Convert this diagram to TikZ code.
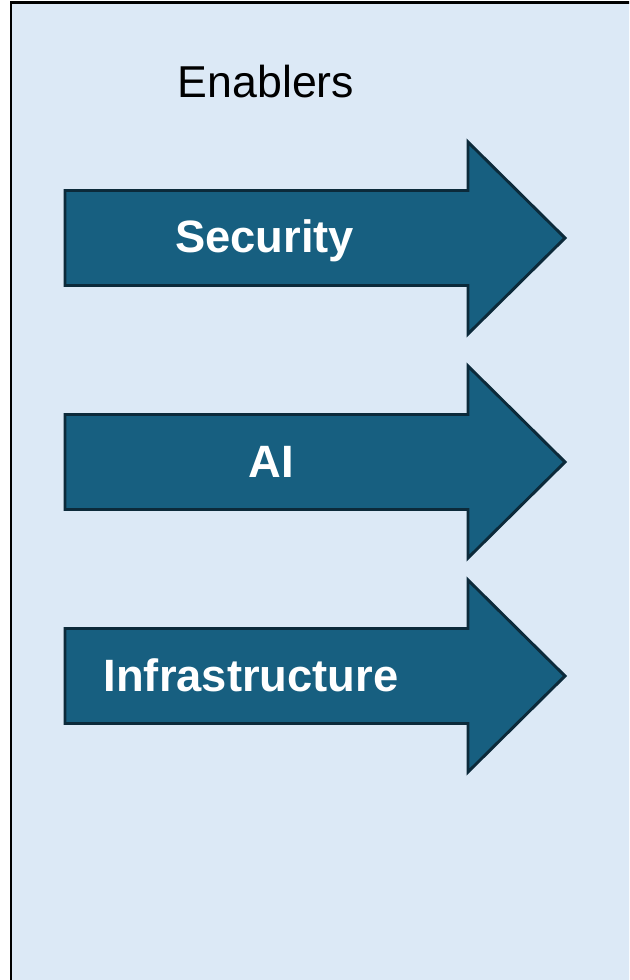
\documentclass[tikz,border=0pt]{standalone}
\usepackage{fontspec}
\setmainfont{Liberation Sans}
\definecolor{panelblue}{HTML}{DCE9F6}
\definecolor{arrowblue}{HTML}{175F80}
\definecolor{arrowline}{HTML}{0C2A3A}

\begin{document}
\begin{tikzpicture}[x=0.75pt,y=-0.75pt,
  enabler/.style={fill=arrowblue, draw=arrowline, line width=2.2pt, line join=miter},
  arrowtext/.style={text=white, font=\fontsize{34}{40}\selectfont\bfseries, anchor=base, inner sep=0pt}]

% Enablers panel
\useasboundingbox (0,0) rectangle (629,980);
\clip (0,0) rectangle (629,980);
\draw[fill=panelblue, line width=1.6pt] (11,2.5) rectangle (660,1010);

\node[font=\fontsize{33.5}{40}\selectfont, anchor=base, inner sep=0pt] (title) at (266,98) {Enablers};

% arrows
\foreach \c/\name/\txt/\tx in {238/sec/Security/264.5, 462/ai/AI/271, 676/infra/Infrastructure/251} {
  \draw[enabler] (65,\c-47.5) -- (468,\c-47.5) -- (468,\c-96) -- (565,\c)
        -- (468,\c+96) -- (468,\c+47.5) -- (65,\c+47.5) -- cycle;
  \node[arrowtext] (\name) at (\tx,\c+15) {\txt};
}

\end{tikzpicture}
\end{document}
